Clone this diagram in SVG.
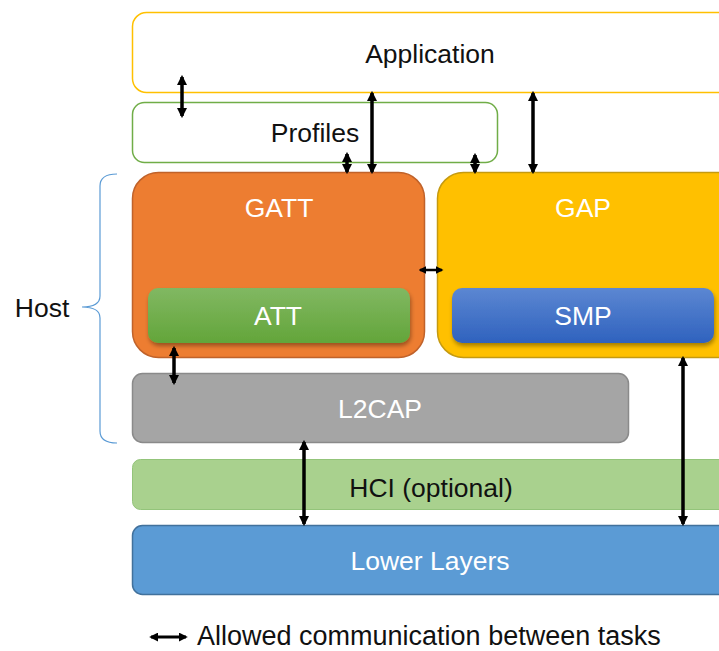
<svg xmlns="http://www.w3.org/2000/svg" width="719" height="651" viewBox="0 0 719 651">
<defs>
<style>
text{font-family:"Liberation Sans",Arial,sans-serif;font-size:26.5px;text-anchor:middle}
.w{fill:#fff}
.k{fill:#111}
.conn line{stroke:#000;stroke-width:3.5;marker-start:url(#ah);marker-end:url(#ah)}
</style>
<marker id="ah" viewBox="0 0 10 10" refX="8" refY="5" markerWidth="3" markerHeight="3" orient="auto-start-reverse" markerUnits="strokeWidth">
<path d="M0,0 L10,5 L0,10 z" fill="#000"/>
</marker>
<linearGradient id="gAtt" x1="0" y1="0" x2="0" y2="1">
<stop offset="0" stop-color="#81B862"/><stop offset="1" stop-color="#63A53A"/>
</linearGradient>
<linearGradient id="gSmp" x1="0" y1="0" x2="0" y2="1">
<stop offset="0" stop-color="#5C87D2"/><stop offset="1" stop-color="#2F62BE"/>
</linearGradient>
<filter id="sh" x="-10%" y="-20%" width="120%" height="150%">
<feDropShadow dx="1" dy="3" stdDeviation="2" flood-color="#000" flood-opacity="0.35"/>
</filter>
</defs>
<rect width="719" height="651" fill="#fff"/>

<g id="application">
<rect x="132.5" y="12.5" width="620" height="80" rx="14" fill="#fff" stroke="#FFC000" stroke-width="1.5"/>
<text x="430" y="63" class="k">Application</text>
</g>
<g id="profiles">
<rect x="132.5" y="102.5" width="365" height="60" rx="12" fill="#fff" stroke="#70AD47" stroke-width="1.5"/>
<text x="315" y="142" class="k">Profiles</text>
</g>
<g id="gatt">
<rect x="132.5" y="172.5" width="292" height="185" rx="26" fill="#ED7D31" stroke="#C0622A" stroke-width="1.5"/>
<text x="279" y="217" class="w">GATT</text>
</g>
<g id="att">
<rect x="148" y="288" width="262" height="55" rx="10" fill="url(#gAtt)" filter="url(#sh)"/>
<text x="278" y="325" class="w">ATT</text>
</g>
<g id="gap">
<rect x="437.5" y="172.5" width="320" height="185" rx="26" fill="#FFC000" stroke="#C59A10" stroke-width="1.5"/>
<text x="583" y="217" class="w">GAP</text>
</g>
<g id="smp">
<rect x="452" y="288" width="262" height="55" rx="10" fill="url(#gSmp)" filter="url(#sh)"/>
<text x="583" y="325" class="w">SMP</text>
</g>
<g id="l2cap">
<rect x="132.5" y="373.5" width="496" height="69" rx="10" fill="#A5A5A5" stroke="#8A8A8A" stroke-width="1.5"/>
<text x="380" y="418" class="w">L2CAP</text>
</g>
<g id="hci">
<rect x="132.5" y="459.5" width="620" height="50" rx="8" fill="#A9D18E" stroke="#93C47A" stroke-width="1"/>
<text x="431" y="497" class="k">HCI (optional)</text>
</g>
<g id="lower">
<rect x="132.5" y="525.5" width="620" height="69" rx="10" fill="#5B9BD5" stroke="#41719C" stroke-width="1.5"/>
<text x="430" y="570" class="w">Lower Layers</text>
</g>
<g id="host">
<path d="M117,174 Q100,174 100,186 L100,296 Q100,307 82,307 Q100,307 100,318 L100,431 Q100,443 117,443" fill="none" stroke="#5B9BD5" stroke-width="1.2"/>
<text x="42" y="317" class="k">Host</text>
</g>

<g class="conn" id="connectors">
<line x1="182" y1="77" x2="182" y2="116"/>
<line x1="372" y1="93" x2="372" y2="172"/>
<line x1="347" y1="154" x2="347" y2="172"/>
<line x1="475" y1="155" x2="475" y2="172"/>
<line x1="533" y1="93" x2="533" y2="172"/>
<line x1="420" y1="270" x2="442" y2="270" style="stroke-width:2.5"/>
<line x1="174" y1="348" x2="174" y2="383"/>
<line x1="304" y1="442" x2="304" y2="524"/>
<line x1="683" y1="358" x2="683" y2="524"/>
</g>

<g id="legend">
<line x1="151" y1="637" x2="186" y2="637" stroke="#000" stroke-width="3" marker-start="url(#ah)" marker-end="url(#ah)"/>
<text x="197" y="645" class="k" style="text-anchor:start;font-size:27px">Allowed communication between tasks</text>
</g>
</svg>
